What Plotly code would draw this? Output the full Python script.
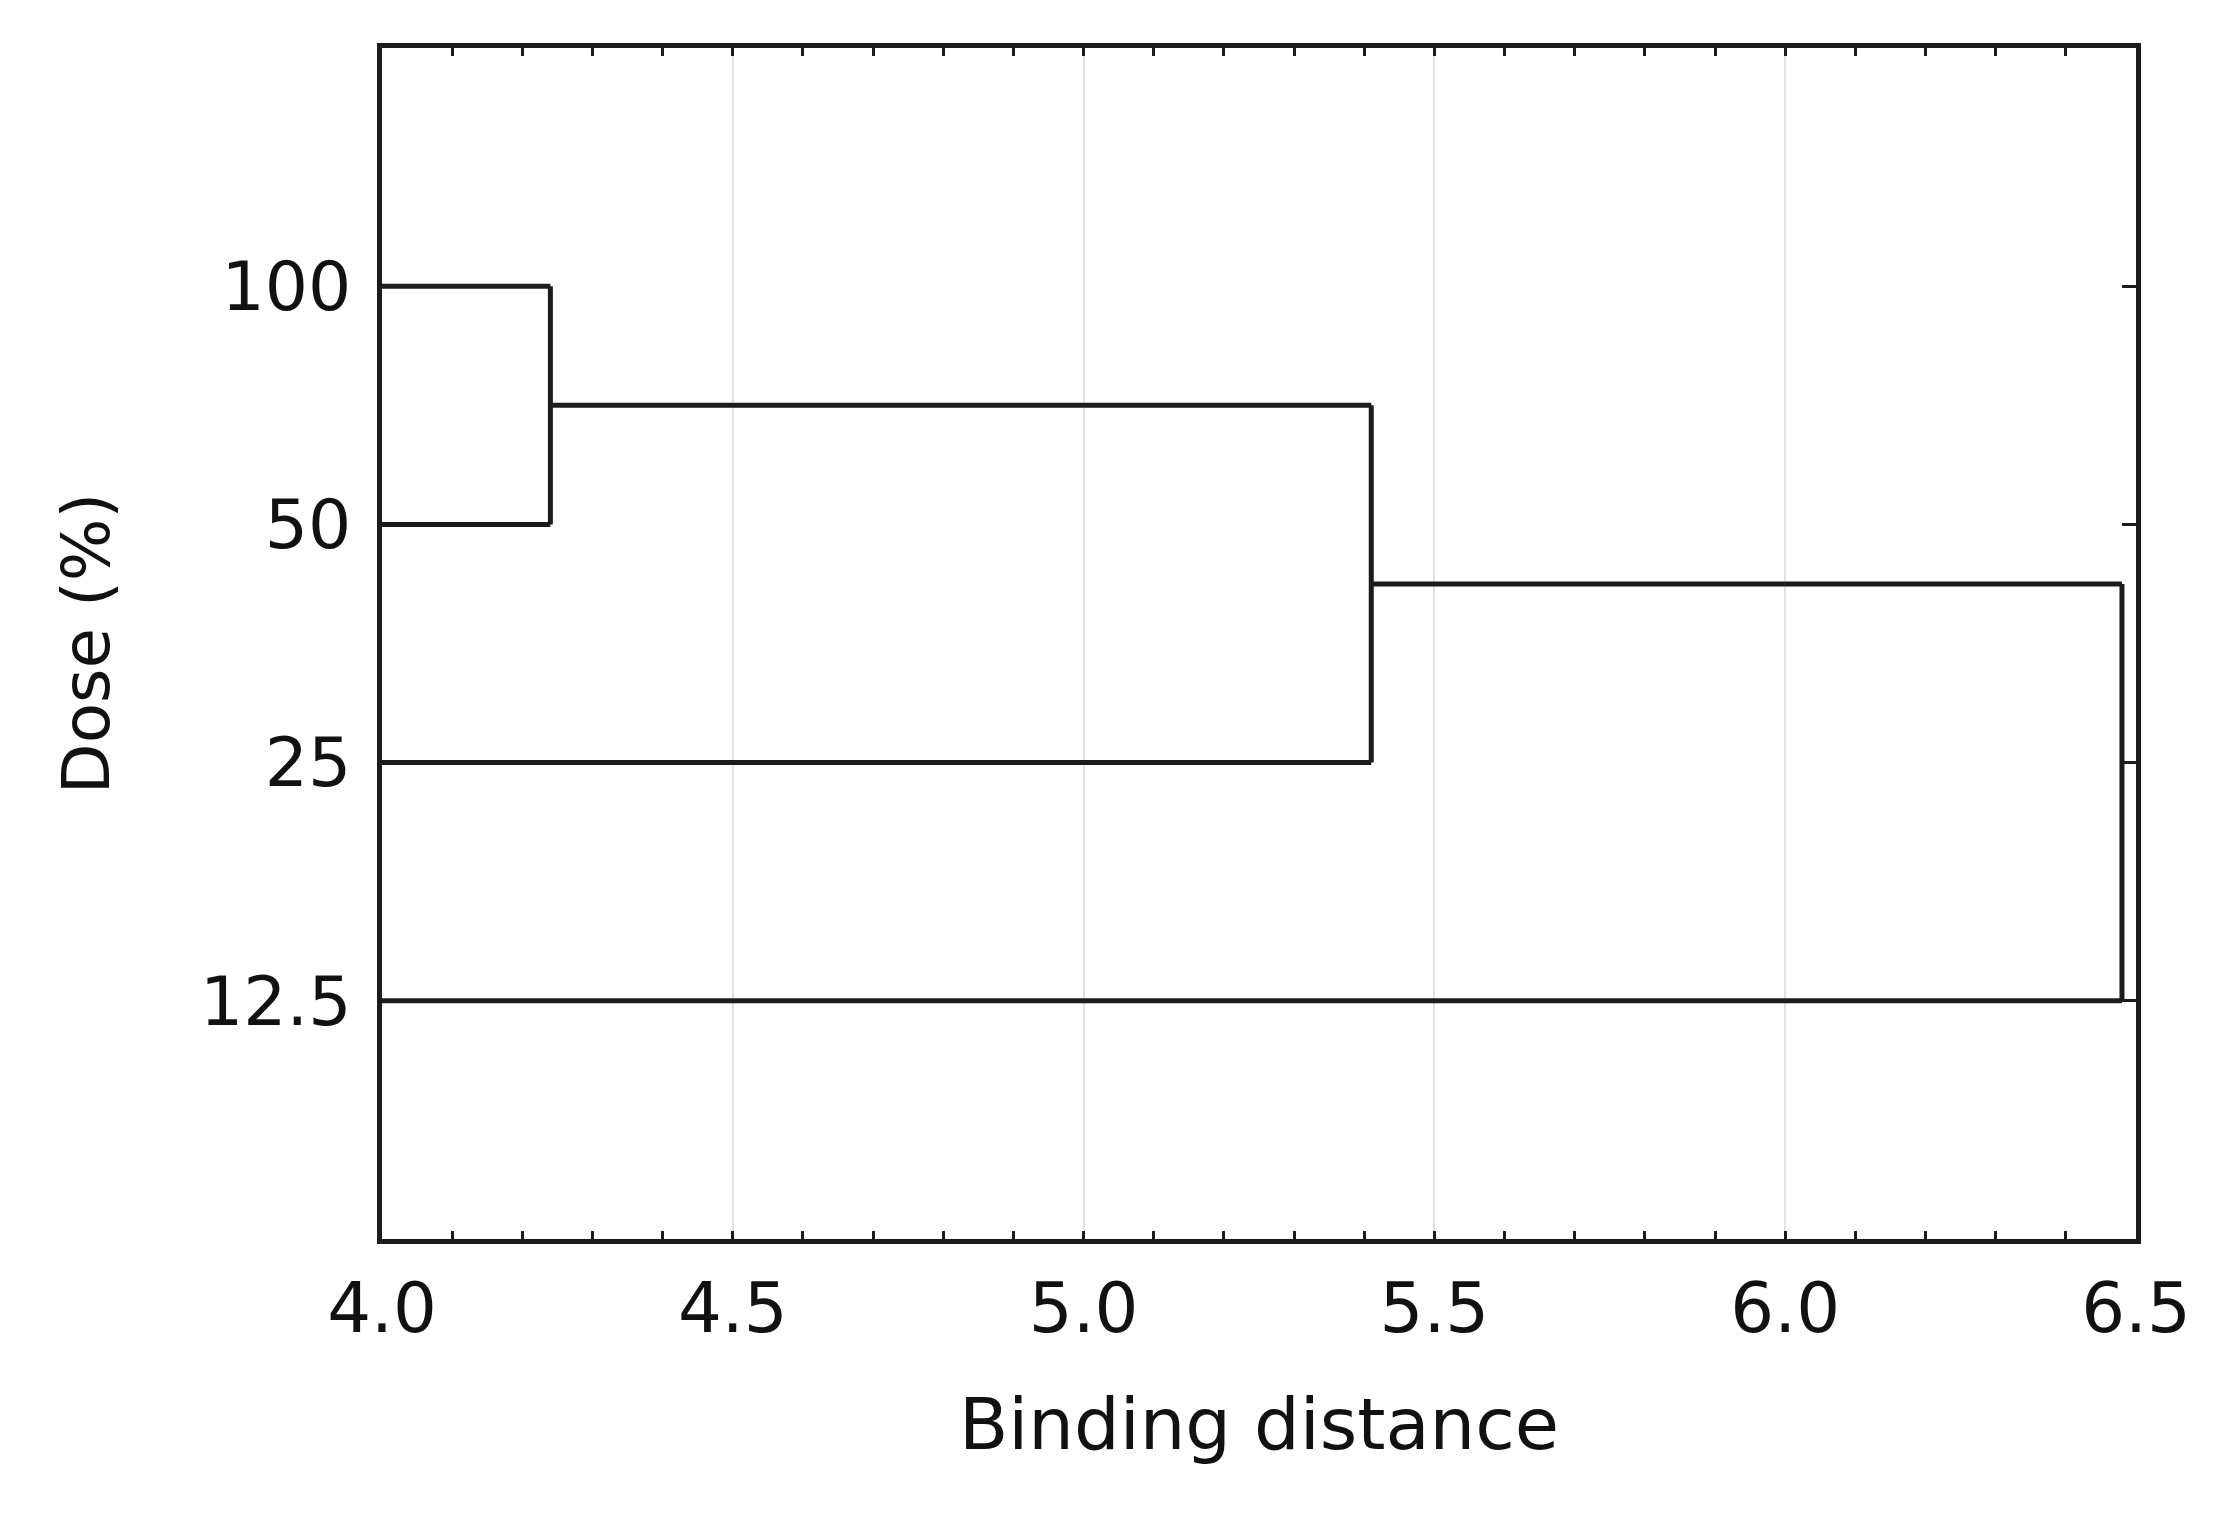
import plotly.graph_objects as go

# ---- data ----
leaf_labels = ["100", "50", "25", "12.5"]          # top to bottom
# linkage rows: [cluster_a, cluster_b, binding distance]; new clusters get ids n, n+1, ...
linkage = [
    [0, 1, 4.24],
    [4, 2, 5.41],
    [5, 3, 6.48],
]
x_ticks = [4.0, 4.5, 5.0, 5.5, 6.0, 6.5]
x_title = "Binding distance"
y_title = "Dose (%)"

LINE = "#1c1c1c"
FONT = "DejaVu Sans"

# ---- build dendrogram segments ----
n = len(leaf_labels)
pos = {i: i + 1 for i in range(n)}      # vertical position of each cluster
height = {i: 0.0 for i in range(n)}      # distance at which cluster formed
xs, ys = [], []
for k, (a, b, d) in enumerate(linkage):
    a, b = int(a), int(b)
    ya, yb = pos[a], pos[b]
    xs += [height[a], d, None]; ys += [ya, ya, None]
    xs += [height[b], d, None]; ys += [yb, yb, None]
    xs += [d, d, None]; ys += [ya, yb, None]
    new_id = n + k
    pos[new_id] = (ya + yb) / 2
    height[new_id] = d

fig = go.Figure()
fig.add_trace(go.Scatter(
    x=xs, y=ys, mode="lines",
    line=dict(color=LINE, width=5),
    hoverinfo="skip", showlegend=False,
))

fig.update_layout(
    width=2237, height=1513,
    margin=dict(l=374, r=109, t=40, b=282),
    paper_bgcolor="white", plot_bgcolor="white",
    font=dict(family=FONT, color="#111111"),
    showlegend=False,
)

fig.update_xaxes(
    range=[x_ticks[0], x_ticks[-1]],
    tickvals=x_ticks,
    ticktext=[f"{v:.1f}" for v in x_ticks],
    tickfont=dict(size=69, family=FONT, color="#111111"),
    ticks="inside", ticklen=8, tickwidth=3, tickcolor=LINE,
    minor=dict(dtick=0.1, ticks="inside", ticklen=8, tickwidth=3, tickcolor=LINE, showgrid=False),
    showgrid=True, gridcolor="#e2e2e2", gridwidth=2,
    showline=True, linecolor=LINE, linewidth=5, mirror="ticks",
    zeroline=False,
    ticklabelstandoff=5,
    title=dict(text=x_title, font=dict(size=72, family=FONT, color="#111111"), standoff=53),
)

fig.update_yaxes(
    range=[n + 1, 0],
    tickvals=[i + 1 for i in range(n)],
    ticktext=leaf_labels,
    tickfont=dict(size=68, family=FONT, color="#111111"),
    ticks="inside", ticklen=14, tickwidth=3, tickcolor=LINE,
    showgrid=False,
    showline=True, linecolor=LINE, linewidth=5, mirror="ticks",
    zeroline=False,
    ticklabelstandoff=12,
    title=dict(text=y_title, font=dict(size=66, family=FONT, color="#111111"), standoff=70),
)

fig.write_html("out.html")
